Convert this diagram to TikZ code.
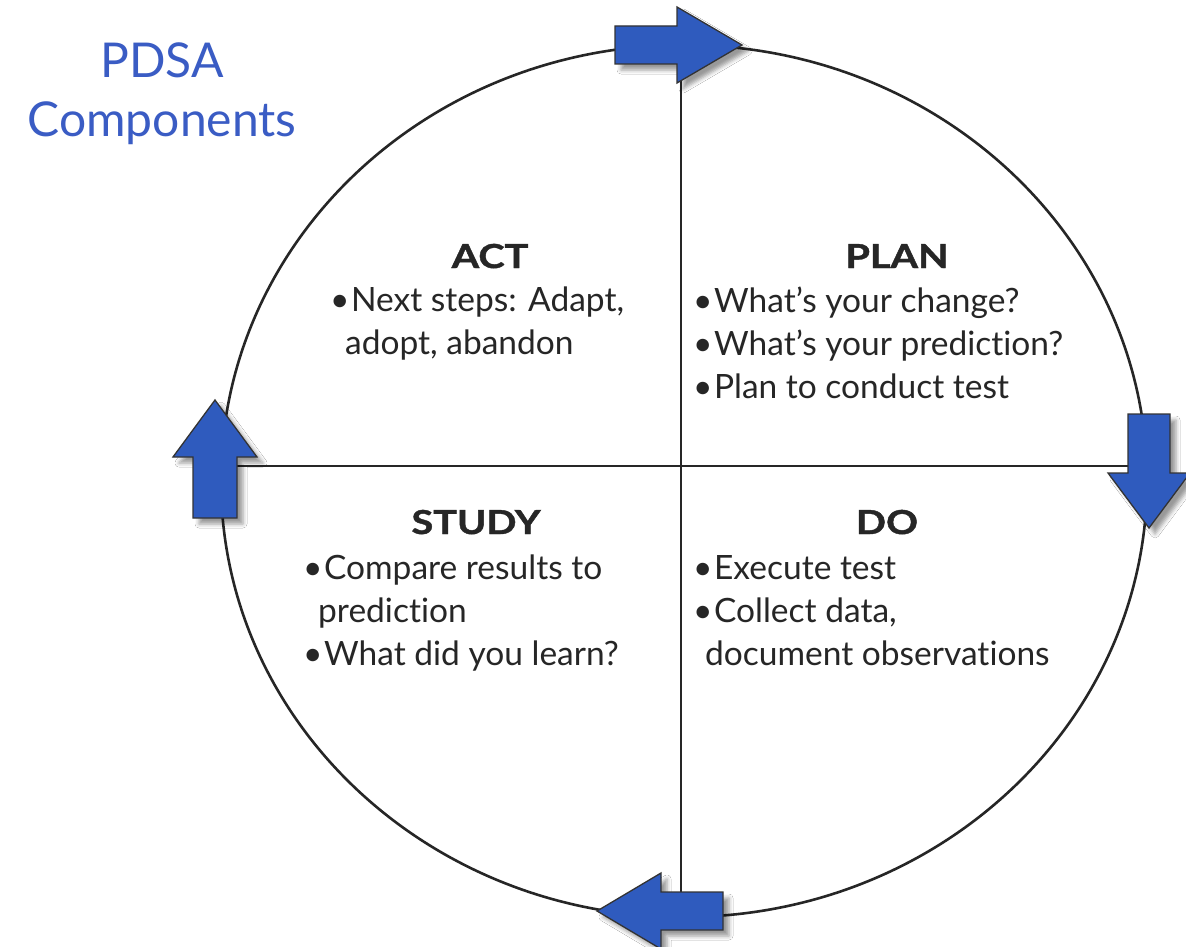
\documentclass[tikz,border=0pt]{standalone}
\usepackage{fontspec}
\setmainfont{Lato}[Ligatures=NoCommon]
\newfontfamily\headfont{Lato}[UprightFont=* Bold, FakeBold=1.2, Ligatures=NoCommon]
\usetikzlibrary{shadows.blur}
\definecolor{pdsablue}{HTML}{2F5BBE}
\definecolor{titleblue}{HTML}{3A5CC4}
\definecolor{inkgray}{HTML}{262626}
\definecolor{edgegray}{HTML}{333333}
\tikzset{
  ring/.style={draw=inkgray, line width=2.6pt},
  cross/.style={draw=inkgray, line width=2.6pt},
  cyclearrow/.style={fill=pdsablue, draw=edgegray, line width=1.3pt, line join=miter,
    blur shadow={shadow xshift=6pt, shadow yshift=-6pt, shadow blur radius=4pt, shadow opacity=40}},
  heading/.style={anchor=base, inner sep=0pt, text=inkgray, xscale=1.2, transform shape,
    font=\fontsize{33}{38}\headfont\selectfont},
  item/.style={anchor=base west, inner sep=0pt, text=inkgray, font=\fontsize{33.5}{38}\selectfont},
  title/.style={anchor=base, inner sep=0pt, text=titleblue, font=\fontsize{48}{54}\selectfont},
}
\newcommand{\bul}{\textbullet\kern1.5pt}
\begin{document}
\begin{tikzpicture}[x=1pt, y=-1pt]
\useasboundingbox[fill=white] (0,0) rectangle (1186,947);

% the cycle and its quadrants
\draw[ring] (684,481) ellipse [x radius=463, y radius=436];
\coordinate (ctop) at (681,46);
\coordinate (cbot) at (681,916);
\coordinate (cleft) at (221,466);
\coordinate (cright) at (1147,466);
\draw[cross] (ctop) -- (cbot);
\draw[cross] (cleft) -- (cright);

% block arrows showing the direction of the cycle
\coordinate (atop) at (677,45);
\coordinate (aright) at (1149,473);
\coordinate (abot) at (661,911);
\coordinate (aleft) at (215,457);
\path[cyclearrow] (atop) ++(-62,-19) -- ++(62,0) -- ++(0,-19) -- ++(65,38) -- ++(-65,38) -- ++(0,-19) -- ++(-62,0) -- cycle;
\path[cyclearrow] (aright) ++(-21,-59) -- ++(0,59) -- ++(-20,0) -- ++(41,55) -- ++(41,-55) -- ++(-20,0) -- ++(0,-59) -- cycle;
\path[cyclearrow] (abot) ++(62,-19) -- ++(-62,0) -- ++(0,-19) -- ++(-64,38) -- ++(64,38) -- ++(0,-19) -- ++(62,0) -- cycle;
\path[cyclearrow] (aleft) ++(-22,61) -- ++(0,-61) -- ++(-20,0) -- ++(42,-57) -- ++(42,57) -- ++(-20,0) -- ++(0,61) -- cycle;

% title
\node[title] (t1) at (162,78) {PDSA};
\node[title] (t2) at (162,137) {Components};

% ACT
\node[heading] (acth) at (490,268) {ACT};
\node[item] (act1) at (330,311) {\bul Next steps: Adapt,};
\node[item] (act2) at (345,354) {adopt, abandon};

% PLAN
\node[heading] (planh) at (897,268) {PLAN};
\node[item] (plan1) at (693,312) {\bul What’s your change?};
\node[item] (plan2) at (693,355) {\bul What’s your prediction?};
\node[item] (plan3) at (693,398) {\bul Plan to conduct test};

% STUDY
\node[heading] (studyh) at (476,534) {STUDY};
\node[item] (study1) at (303,579) {\bul Compare results to};
\node[item] (study2) at (318,622) {prediction};
\node[item] (study3) at (303,665) {\bul What did you learn?};

% DO
\node[heading] (doh) at (887,534) {DO};
\node[item] (do1) at (693,579) {\bul Execute test};
\node[item] (do2) at (693,622) {\bul Collect data,};
\node[item] (do3) at (705,665) {document observations};
\end{tikzpicture}
\end{document}
